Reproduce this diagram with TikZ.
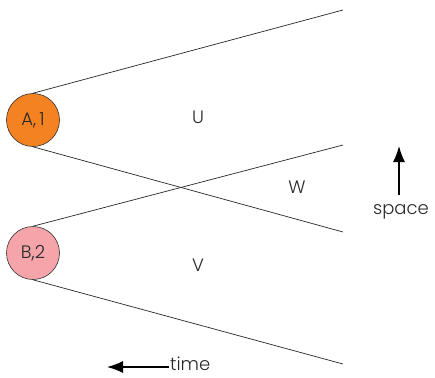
\documentclass[tikz,border=0pt]{standalone}
\usepackage{fontspec}
\setmainfont{Poppins Light}
\usetikzlibrary{arrows.meta}
\definecolor{aorange}{RGB}{245,130,32}
\definecolor{bpink}{RGB}{245,165,170}
\definecolor{txt}{RGB}{40,40,40}
\begin{document}
\begin{tikzpicture}[x=1pt,y=-1pt,
  site/.style={circle,draw=black!80,line width=0.6pt,minimum size=53pt,inner sep=0pt,font=\fontsize{18}{18}\selectfont,text=txt},
  ray/.style={line width=0.7pt,black!85},
  lbl/.style={font=\fontsize{18}{18}\selectfont,text=txt,inner sep=0pt},
  axis/.style={line width=1.4pt,-{Latex[length=16pt,width=12pt]}}]
\useasboundingbox (0,0) rectangle (435,377);
\node[site,fill=aorange] (A) at (33,120) {A,\,1};
\node[site,fill=bpink] (B) at (33,253) {B,2};
\coordinate (a1) at (343,10);
\coordinate (a2) at (343,232);
\coordinate (b1) at (343,145);
\coordinate (b2) at (343,364);
\draw[ray] (A.north) -- (a1);
\draw[ray] (A.south) -- (a2);
\draw[ray] (B.north) -- (b1);
\draw[ray] (B.south) -- (b2);
\node[lbl] (U) at (198,117) {U};
\node[lbl] (W) at (297,187) {W};
\node[lbl] (V) at (198,265) {V};
\coordinate (s0) at (399,195);
\coordinate (s1) at (399,146);
\draw[axis] (s0) -- (s1);
\node[lbl] (space) at (401,212) {space};
\coordinate (t0) at (169,367);
\coordinate (t1) at (107,367);
\draw[axis] (t0) -- (t1);
\node[lbl,anchor=west] (time) at (170,364) {time};
\end{tikzpicture}
\end{document}
